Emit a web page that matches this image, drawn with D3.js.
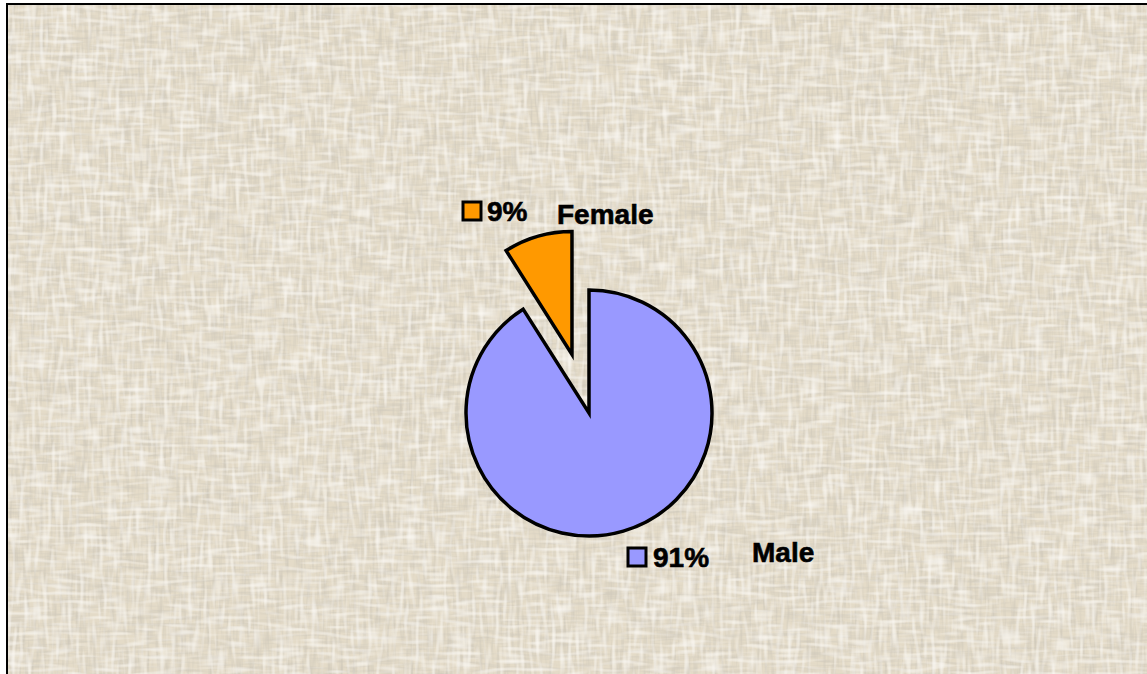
<!DOCTYPE html>
<html>
<head>
<meta charset="utf-8">
<script src="https://cdn.jsdelivr.net/npm/d3@7"></script>
<style>
  body { margin: 0; background: #fff; }
  text { font-family: "Liberation Sans", Arial, sans-serif; font-weight: bold; }
</style>
</head>
<body>
<div id="chart"></div>
<script>
// chart data
var categories = ["Male", "Female"];
var values = [91, 9];
var percentLabels = ["91%", "9%"];
var colors = ["#9999ff", "#ff9900"];

var width = 1147, height = 674;

var svg = d3.select("#chart")
    .append("svg")
    .attr("width", width)
    .attr("height", height);

// canvas-like texture for the background
var defs = svg.append("defs");
var f = defs.append("filter").attr("id", "cloth")
    .attr("x", 0).attr("y", 0).attr("width", "100%").attr("height", "100%");
f.append("feFlood").attr("flood-color", "#e4dbc8").attr("result", "base");
f.append("feTurbulence").attr("type", "fractalNoise")
    .attr("baseFrequency", "0.3 0.035").attr("numOctaves", 2).attr("seed", 3)
    .attr("result", "vert");
f.append("feColorMatrix").attr("in", "vert").attr("type", "matrix")
    .attr("values", "0 0 0 0 0.6  0 0 0 0 0.56  0 0 0 0 0.48  1.6 0 0 0 -0.68")
    .attr("result", "vertC");
f.append("feTurbulence").attr("type", "fractalNoise")
    .attr("baseFrequency", "0.035 0.3").attr("numOctaves", 2).attr("seed", 11)
    .attr("result", "hor");
f.append("feColorMatrix").attr("in", "hor").attr("type", "matrix")
    .attr("values", "0 0 0 0 0.62  0 0 0 0 0.58  0 0 0 0 0.5  1.6 0 0 0 -0.68")
    .attr("result", "horC");
f.append("feTurbulence").attr("type", "fractalNoise")
    .attr("baseFrequency", "0.25 0.04").attr("numOctaves", 1).attr("seed", 7)
    .attr("result", "lite");
f.append("feColorMatrix").attr("in", "lite").attr("type", "matrix")
    .attr("values", "0 0 0 0 0.98  0 0 0 0 0.96  0 0 0 0 0.92  2.0 0 0 0 -0.95")
    .attr("result", "liteC");
f.append("feTurbulence").attr("type", "fractalNoise")
    .attr("baseFrequency", "0.04 0.25").attr("numOctaves", 1).attr("seed", 19)
    .attr("result", "lite2");
f.append("feColorMatrix").attr("in", "lite2").attr("type", "matrix")
    .attr("values", "0 0 0 0 0.98  0 0 0 0 0.96  0 0 0 0 0.92  2.0 0 0 0 -0.95")
    .attr("result", "lite2C");
var m = f.append("feMerge");
m.append("feMergeNode").attr("in", "base");
m.append("feMergeNode").attr("in", "vertC");
m.append("feMergeNode").attr("in", "horC");
m.append("feMergeNode").attr("in", "liteC");
m.append("feMergeNode").attr("in", "lite2C");

svg.append("rect")
    .attr("x", 7).attr("y", 4)
    .attr("width", width - 7).attr("height", height - 4)
    .attr("fill", "#e4dbc8")
    .attr("filter", "url(#cloth)");

// top and left border
svg.append("path")
    .attr("d", "M7," + height + "V4H" + width)
    .attr("fill", "none")
    .attr("stroke", "#000")
    .attr("stroke-width", 2);

// pie
var cx = 589, cy = 413, radius = 123, explode = 61;

var pie = d3.pie().sort(null).startAngle(0).endAngle(2 * Math.PI);
var arcs = pie(values);
var arc = d3.arc().innerRadius(0).outerRadius(radius);

var g = svg.append("g").attr("transform", "translate(" + cx + "," + cy + ")");

g.selectAll("path.slice")
    .data(arcs)
    .enter()
    .append("path")
    .attr("class", "slice")
    .attr("d", arc)
    .attr("transform", function (d, i) {
        if (categories[i] !== "Female") return null;
        var a = (d.startAngle + d.endAngle) / 2;
        return "translate(" + (Math.sin(a) * explode) + "," + (-Math.cos(a) * explode) + ")";
    })
    .attr("fill", function (d, i) { return colors[i]; })
    .attr("stroke", "#000")
    .attr("stroke-width", 3.5)
    .attr("stroke-linejoin", "miter");

// labels: [square x, square y, percent x, percent baseline, name x, name baseline]
var labelPos = {
    "Male":   [628, 548, 653, 567, 752, 562],
    "Female": [463, 202, 487, 221, 557, 224]
};

categories.forEach(function (c, i) {
    var p = labelPos[c];
    svg.append("rect")
        .attr("x", p[0]).attr("y", p[1])
        .attr("width", 18).attr("height", 18)
        .attr("fill", colors[i])
        .attr("stroke", "#000")
        .attr("stroke-width", 3);
    svg.append("text")
        .attr("x", p[2]).attr("y", p[3])
        .attr("font-size", 28)
        .attr("fill", "#000")
        .attr("stroke", "#000")
        .attr("stroke-width", 0.6)
        .text(percentLabels[i]);
    svg.append("text")
        .attr("x", p[4]).attr("y", p[5])
        .attr("font-size", 28)
        .attr("fill", "#000")
        .attr("stroke", "#000")
        .attr("stroke-width", 0.6)
        .text(c);
});
</script>
</body>
</html>
